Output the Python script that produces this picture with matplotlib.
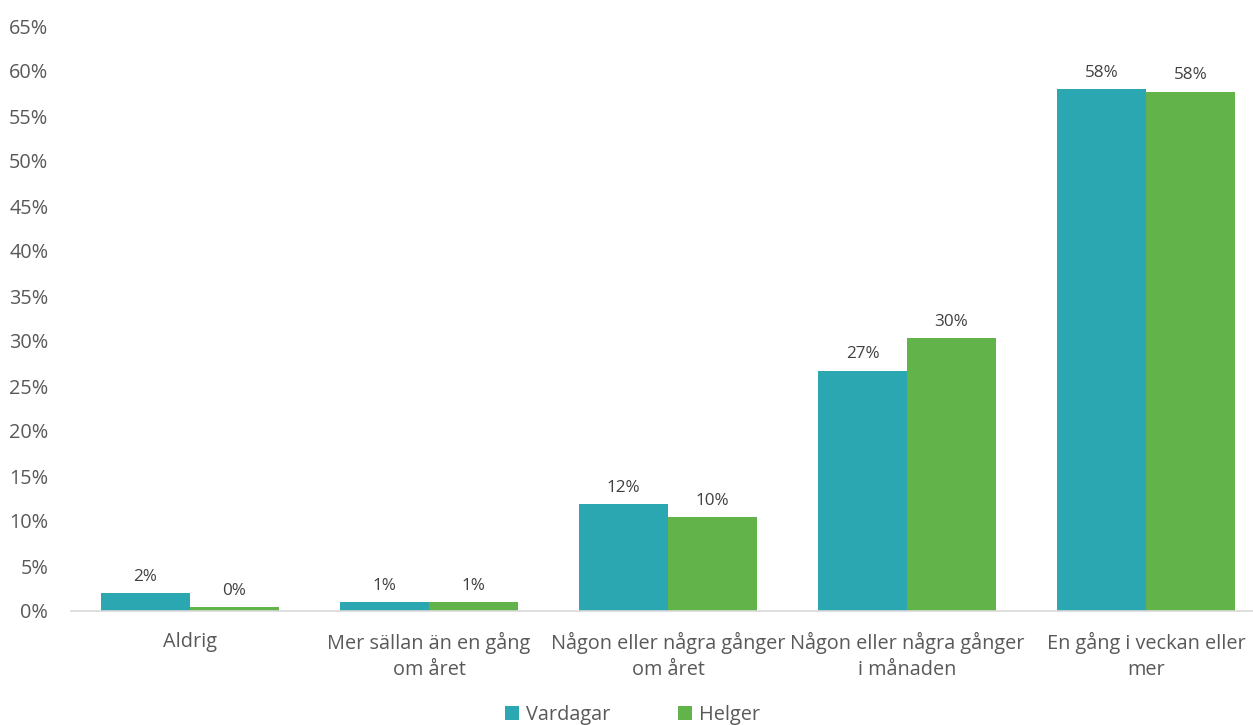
import matplotlib
matplotlib.use("Agg")
import matplotlib.pyplot as plt
import numpy as np
from matplotlib.ticker import FuncFormatter, MultipleLocator

categories = ["Aldrig", "Mer sällan än en gång\nom året", "Någon eller några gånger\nom året",
              "Någon eller några gånger\ni månaden", "En gång i veckan eller\nmer"]
vardagar = [2.0, 1.0, 11.9, 26.7, 58.0]
helger = [0.45, 1.0, 10.4, 30.3, 57.7]
vardagar_labels = ["2%", "1%", "12%", "27%", "58%"]
helger_labels = ["0%", "1%", "10%", "30%", "58%"]
series_names = ["Vardagar", "Helger"]

plt.rcParams['font.family'] = ['Open Sans', 'DejaVu Sans']

W, H = 1253, 725
fig = plt.figure(figsize=(W/100, H/100), dpi=100)
left = 70.5 / W
bottom = 1 - 611 / H
top = 1 - 26 / H
ax = fig.add_axes([left, bottom, 1 - left, top - bottom])

teal = "#2AA7B1"
green = "#62B34A"
x = np.arange(len(categories))
bw = 0.372
b1 = ax.bar(x - bw/2, vardagar, bw, color=teal, label=series_names[0])
b2 = ax.bar(x + bw/2, helger, bw, color=green, label=series_names[1])

for rect, lab in zip(b1, vardagar_labels):
    ax.annotate(lab, (rect.get_x() + rect.get_width()/2, rect.get_height()),
                xytext=(0, 6), textcoords="offset points", ha="center", va="bottom",
                fontsize=12.3, color="#404040")
for rect, lab in zip(b2, helger_labels):
    ax.annotate(lab, (rect.get_x() + rect.get_width()/2, rect.get_height()),
                xytext=(0, 6), textcoords="offset points", ha="center", va="bottom",
                fontsize=12.3, color="#404040")

ax.set_ylim(0, 65)
ax.set_xlim(-0.5, -0.5 + (W - 70.5) / 239)
ax.yaxis.set_major_locator(MultipleLocator(5))
ax.yaxis.set_major_formatter(FuncFormatter(lambda v, p: f"{int(round(v))}%"))
for s in ["left", "right", "top"]:
    ax.spines[s].set_visible(False)
ax.spines["bottom"].set_color("#D9D9D9")
ax.spines["bottom"].set_linewidth(1.2)
ax.tick_params(axis="y", length=0, labelsize=14.3, colors="#595959", pad=16)
ax.tick_params(axis="x", length=0, labelsize=14.3, colors="#595959", pad=15)
ax.set_xticks(x)
ax.set_xticklabels(categories, linespacing=1.42)

leg = fig.legend(handles=[b1, b2], labels=series_names, loc="lower center",
                 bbox_to_anchor=(0.505, -0.025), ncol=2, frameon=False, fontsize=14.3,
                 handlelength=0.7, handleheight=0.7, columnspacing=3.4, handletextpad=0.35)
for t in leg.get_texts():
    t.set_color("#595959")

fig.savefig("out.png", dpi=100)
